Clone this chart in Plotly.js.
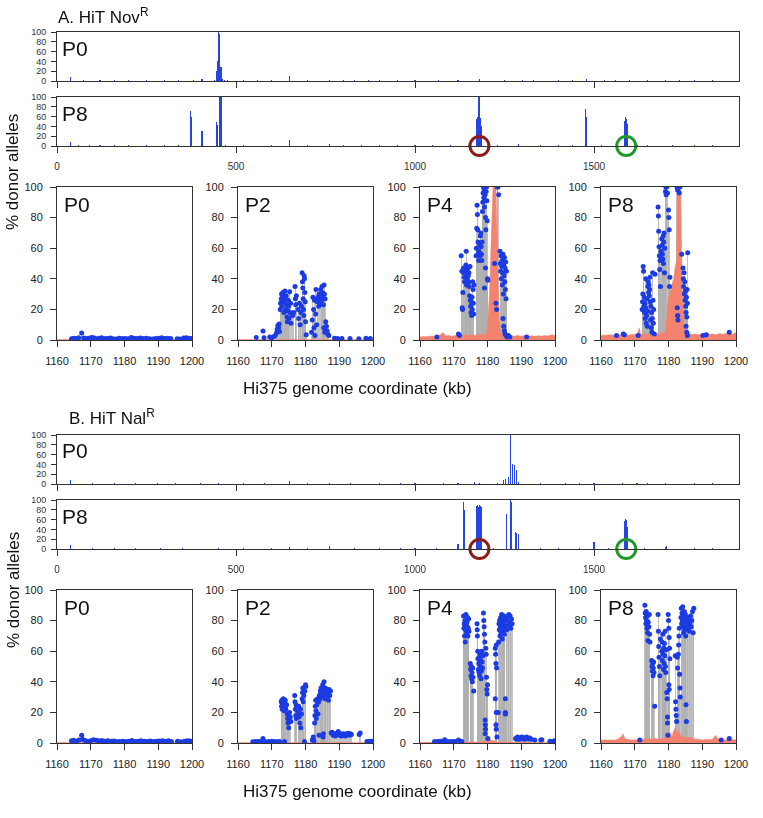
<!DOCTYPE html>
<html><head><meta charset="utf-8">
<script src="https://cdn.plot.ly/plotly-3.0.1.min.js"></script>
<style>html,body{margin:0;padding:0;background:#fff}#chart{width:763px;height:818px}</style>
</head><body><div id="chart"></div>
<script>
// ---------------- DATA ----------------
const genomeTicks = [0, 500, 1000, 1500];
const zoomTicks = [1160, 1170, 1180, 1190, 1200];
const pctTicks = [0, 20, 40, 60, 80, 100];
const circleKb = [1180, 1590];

// genome-wide tracks: [kb, % donor]
const A_P0_track = [[38,8],[75,1.5],[120,2],[160,1.5],[200,1.5],[250,2],[300,2],[340,1.5],[380,2],[405,4],[440,3],[446,20],[449,40],[452,100],[455,96],[458,28],[462,5],[468,3],[475,2],[520,1.5],[560,2],[600,1.5],[650,10],[700,2],[760,3],[800,2],[830,2],[870,1.5],[900,2],[950,1.5],[1000,2],[1065,2],[1120,1.5],[1180,4],[1250,2],[1300,1.5],[1330,2],[1400,2],[1440,1.5],[1478,4],[1530,2],[1560,1.5],[1600,2],[1650,2],[1700,3],[1740,2],[1780,2],[1830,3]];
const A_P8_track = [[38,8],[60,3],[90,2],[120,3],[160,2],[200,2],[250,2],[300,2],[340,2],[372,72],[375,60],[405,30],[446,50],[449,42],[455,100],[458,100],[470,2],[520,2],[600,2],[650,13],[700,2],[760,4],[800,3],[850,3],[900,2],[950,3],[1000,2],[1050,3],[1100,2],[1150,2],[1172,55],[1175,60],[1178,100],[1181,100],[1184,58],[1187,40],[1230,2],[1290,4],[1350,3],[1400,3],[1440,2],[1476,75],[1479,60],[1520,2],[1584,52],[1587,60],[1590,55],[1593,45],[1620,2],[1650,3],[1720,3],[1780,2],[1830,3]];
const B_P0_track = [[38,8],[100,2],[160,1.5],[220,2],[280,1.5],[330,2],[400,1.5],[450,2],[520,1.5],[580,3],[650,6],[700,2],[760,3],[820,1.5],[900,2],[960,1.5],[1000,2],[1080,2],[1120,1.5],[1166,4],[1180,3],[1230,2],[1248,8],[1254,10],[1261,15],[1268,100],[1272,40],[1278,38],[1284,28],[1290,5],[1350,2],[1420,2],[1460,1.5],[1500,2],[1580,2],[1620,1.5],[1650,3],[1700,2],[1780,2],[1830,3]];
const B_P8_track = [[38,8],[100,2],[160,1.5],[220,2],[290,2],[350,1.5],[450,2],[520,1.5],[600,2],[650,4],[700,2],[760,6],[830,2],[900,2],[960,2],[1000,2],[1060,2],[1120,10],[1136,95],[1139,80],[1172,88],[1175,90],[1178,85],[1181,90],[1184,88],[1187,85],[1220,2],[1255,72],[1267,100],[1270,96],[1280,35],[1284,32],[1288,30],[1350,2],[1400,2],[1460,2],[1500,15],[1540,2],[1584,58],[1587,62],[1590,60],[1593,45],[1640,2],[1700,5],[1703,7],[1780,2],[1830,3]];

// zoomed region SNP points: [kb, % donor]
const A_P0_pts = [[1164.3,0.8],[1165.0,1.2],[1165.7,1.0],[1166.4,1.5],[1167.3,4.6],[1167.9,1.3],[1168.6,0.9],[1169.4,1.1],[1170.2,1.6],[1170.9,1.4],[1171.6,0.8],[1172.4,1.2],[1173.2,1.5],[1174.0,1.0],[1174.9,0.9],[1175.8,1.3],[1176.6,0.8],[1177.5,0.7],[1178.4,1.1],[1179.3,1.0],[1180.2,0.9],[1181.1,0.8],[1182.0,1.6],[1182.9,1.2],[1183.8,1.0],[1184.7,1.3],[1185.6,0.9],[1186.5,1.1],[1187.4,0.8],[1188.3,0.7],[1189.2,1.0],[1190.1,1.2],[1191.0,1.4],[1191.9,0.9],[1192.8,1.1],[1193.7,1.0],[1195.6,0.8],[1196.4,0.6],[1197.5,1.3],[1198.3,1.5],[1199.1,1.2],[1199.8,0.9]];
const A_P2_pts = [[1165.4,1.7],[1167.4,5.9],[1167.7,1.5],[1169.4,2.0],[1170.0,1.5],[1170.5,2.2],[1171.0,3.0],[1171.4,4.5],[1171.6,7.0],[1171.8,9.5],[1172.0,8.0],[1172.2,10.5],[1172.3,5.5],[1172.5,20],[1172.6,24],[1172.8,27],[1172.9,30],[1173.0,22],[1173.2,29],[1173.3,31],[1173.5,25],[1173.6,18],[1173.7,28],[1173.9,32],[1174.0,26],[1174.1,20],[1174.3,29],[1174.4,23],[1174.5,15],[1174.6,12],[1174.8,19],[1174.9,26],[1175.0,22],[1175.1,14],[1175.3,31.5],[1175.4,18],[1175.6,24],[1175.7,11],[1175.9,17],[1176.2,16],[1176.5,18],[1176.9,35],[1177.0,27],[1177.1,23],[1177.3,29],[1177.8,20],[1178.0,14],[1178.2,24],[1178.4,10],[1178.6,18],[1178.8,22],[1179.0,44],[1179.1,38],[1179.2,34],[1179.3,27],[1179.4,20],[1179.5,16],[1179.6,42],[1179.7,40],[1179.8,31],[1179.9,25],[1180.0,12],[1180.2,3.5],[1181.8,5],[1182.0,13],[1182.2,28],[1182.4,20],[1182.5,8],[1182.7,26],[1182.8,3],[1183.0,17],[1183.1,33],[1183.3,10],[1183.5,25],[1183.7,28],[1183.9,22],[1184.0,30],[1184.2,27],[1184.3,24],[1184.5,33],[1184.6,29],[1184.8,26],[1184.9,35],[1185.0,31],[1185.2,28],[1185.3,23],[1185.5,36],[1185.6,30],[1185.8,27],[1185.4,8],[1185.7,5],[1186.0,12],[1186.2,9],[1186.4,6],[1186.6,4],[1186.9,3],[1188.6,1.2],[1189.5,1],[1190.8,1],[1193.2,1],[1195.8,0.8],[1197.9,1.2],[1199.2,1]];
const A_P4_pts = [[1165.0,2],[1171.4,4],[1171.7,3],[1172.2,55],[1172.4,45],[1172.5,21],[1172.6,20],[1172.7,31],[1172.9,47],[1173.0,44],[1173.1,41],[1173.2,38],[1173.4,46],[1173.5,43],[1173.6,49],[1173.7,58],[1173.8,36],[1173.9,45],[1174.0,40],[1174.2,47],[1174.3,42],[1174.4,38],[1174.5,44],[1174.6,35],[1174.7,29],[1174.8,48],[1174.9,26],[1175.0,22],[1175.1,18],[1175.2,25],[1175.3,16],[1175.4,28],[1175.5,20],[1175.6,38],[1175.7,33],[1175.8,24],[1175.9,17],[1176.0,36],[1176.6,55],[1176.7,60],[1176.8,73],[1176.9,88],[1177.0,82],[1177.1,72],[1177.2,64],[1177.3,57],[1177.4,52],[1177.5,58],[1177.7,62],[1177.8,55],[1177.9,68],[1178.0,70],[1178.1,61],[1178.2,56],[1178.3,52],[1178.4,64],[1178.5,84],[1178.6,90],[1178.7,96],[1178.8,100],[1178.9,93],[1179.0,98],[1179.1,87],[1179.2,99],[1179.3,95],[1179.4,80],[1179.5,72],[1179.6,97],[1179.7,100],[1179.8,91],[1179.1,34],[1179.4,47],[1179.9,78],[1180.0,40],[1180.1,39],[1182.1,50],[1182.5,24],[1182.7,20],[1182.9,100],[1183.1,100],[1183.3,95],[1183.7,58],[1183.8,50],[1183.9,45],[1184.0,55],[1184.1,40],[1184.2,48],[1184.3,52],[1184.4,36],[1184.5,44],[1184.6,56],[1184.7,30],[1184.8,49],[1184.9,42],[1185.0,54],[1185.1,38],[1185.2,47],[1185.3,33],[1185.4,51],[1185.5,27],[1185.6,45],[1184.6,14],[1184.8,9],[1185.0,6],[1185.2,4],[1185.5,3],[1185.8,2],[1186.2,3],[1186.6,2],[1191.6,2]];
const A_P8_pts = [[1164.6,3],[1166.6,4],[1166.9,3.5],[1171.0,3],[1172.2,20],[1172.3,25],[1172.4,30],[1172.5,48],[1172.6,45],[1172.7,22],[1172.8,28],[1172.9,18],[1173.0,24],[1173.1,14],[1173.2,21],[1173.3,40],[1173.4,11],[1173.5,16],[1173.6,27],[1173.7,9],[1173.8,19],[1173.9,35],[1174.0,38],[1174.1,31],[1174.2,36],[1174.3,29],[1174.4,33],[1174.5,41],[1174.6,25],[1174.7,13],[1174.8,22],[1174.9,8],[1175.0,18],[1175.1,5],[1175.2,14],[1175.3,44],[1175.4,26],[1175.5,11],[1175.6,20],[1175.8,4],[1176.0,43],[1176.9,87],[1177.0,81],[1177.1,71],[1177.2,61],[1177.3,55],[1177.4,46],[1177.5,52],[1177.6,35],[1177.8,58],[1178.0,66],[1178.1,62],[1178.2,56],[1178.3,53],[1178.4,68],[1178.5,50],[1178.6,64],[1178.7,70],[1178.8,44],[1178.9,60],[1179.1,97],[1179.2,100],[1179.3,95],[1179.5,100],[1179.7,96],[1180.0,85],[1180.1,80],[1180.2,72],[1180.3,35],[1180.4,41],[1182.5,100],[1182.7,98],[1182.9,100],[1183.2,96],[1183.4,100],[1182.6,21],[1182.7,16],[1182.8,13],[1183.9,56],[1184.3,47],[1184.4,40],[1184.5,35],[1184.6,44],[1184.7,30],[1184.8,38],[1184.9,26],[1185.0,32],[1185.1,22],[1185.2,18],[1185.3,28],[1185.4,15],[1185.5,33],[1185.6,24],[1185.7,57],[1185.2,9],[1185.4,5],[1185.6,3],[1190.2,3],[1191.2,3.5],[1198.0,5]];
const B_P0_pts = [[1164.3,1.5],[1165.0,1.8],[1165.8,1.2],[1166.5,2.0],[1167.3,5.0],[1167.6,2.5],[1168.3,1.6],[1169.1,1.2],[1170.0,1.5],[1170.8,2.2],[1171.6,1.8],[1172.4,1.4],[1173.3,1.6],[1174.1,1.2],[1175.0,1.5],[1175.9,1.1],[1176.8,1.3],[1177.7,0.9],[1178.6,1.0],[1179.5,1.2],[1180.4,0.9],[1181.3,1.1],[1182.2,1.6],[1183.1,1.0],[1184.0,1.2],[1184.9,1.4],[1185.8,1.1],[1186.7,1.0],[1187.6,1.3],[1188.5,0.9],[1189.4,1.1],[1190.3,1.3],[1191.2,1.5],[1192.1,1.2],[1193.0,1.4],[1193.9,1.0],[1195.7,1.1],[1196.5,0.8],[1197.7,1.2],[1198.5,1.5],[1199.3,1.3],[1199.9,1.0]];
const B_P2_pts = [[1164.4,0.8],[1165.2,1],[1166.0,1],[1166.8,1],[1167.4,3],[1168.0,1],[1169.0,1],[1170.0,1.2],[1170.9,1],[1171.6,0.8],[1172.3,1],[1172.8,27],[1172.9,24],[1173.0,28],[1173.1,22],[1173.2,26],[1173.3,25],[1173.4,29],[1173.5,23],[1173.6,27],[1173.7,21],[1173.8,1],[1173.9,26],[1174.0,28],[1174.1,24],[1174.2,22],[1174.4,25],[1174.6,19],[1174.7,16],[1174.8,13],[1174.9,18],[1175.0,10],[1175.1,15],[1175.3,20],[1175.5,17],[1175.7,14],[1176.8,31],[1176.9,27],[1177.0,22],[1177.1,18],[1177.2,25],[1177.3,16],[1177.8,20],[1178.0,24],[1178.1,17],[1178.3,13],[1178.5,22],[1178.6,10],[1178.8,19],[1179.0,29],[1179.1,33],[1179.2,36],[1179.3,27],[1179.5,31],[1179.7,1],[1179.8,34],[1180.0,38],[1180.1,37],[1182.0,2],[1182.3,4],[1182.5,1.5],[1182.7,13],[1182.8,18],[1182.9,24],[1183.0,28],[1183.1,21],[1183.2,16],[1183.4,25],[1183.6,29],[1183.7,19],[1183.9,27],[1184.0,5],[1184.1,31],[1184.3,29],[1184.4,34],[1184.5,32],[1184.6,36],[1184.8,30],[1184.9,35],[1185.0,33],[1185.1,38],[1185.2,4],[1185.3,6],[1185.4,31],[1185.5,40],[1185.6,34],[1185.8,29],[1185.9,36],[1186.0,32],[1186.2,35],[1186.4,30],[1186.6,33],[1186.8,28],[1187.0,35],[1187.2,31],[1187.4,34],[1187.6,6.5],[1187.9,7],[1188.2,5],[1188.5,6],[1188.8,4.5],[1189.1,5.5],[1189.4,6.5],[1189.7,7.5],[1190.0,5],[1190.3,6],[1190.6,4.5],[1190.9,5.5],[1191.2,6],[1191.5,5],[1191.8,4.5],[1192.1,6],[1192.4,5.5],[1192.7,6.3],[1193.0,5],[1193.3,6],[1193.6,5.5],[1195.9,5.5],[1196.2,6.5],[1198.2,1],[1198.8,1],[1199.4,1.2],[1199.9,1]];
const B_P4_pts = [[1164.3,1],[1165.2,1],[1166.0,1.2],[1166.8,1],[1167.3,2.2],[1167.8,1.2],[1168.8,1],[1169.6,1],[1170.4,1],[1171.4,2],[1172.0,1],[1172.4,1],[1172.9,83],[1173.0,75],[1173.1,78],[1173.2,70],[1173.3,80],[1173.4,66],[1173.5,74],[1173.6,84],[1173.7,77],[1173.8,72],[1173.9,79],[1174.0,76],[1174.1,82],[1174.2,70],[1174.3,75],[1174.4,81],[1174.5,73],[1174.9,52],[1175.0,48],[1175.1,44],[1175.2,50],[1175.3,42],[1175.4,46],[1175.5,40],[1175.6,49],[1175.7,43],[1175.9,34],[1176.9,78],[1176.95,74],[1177.0,70],[1177.1,60],[1177.15,55],[1177.3,48],[1177.4,52],[1177.5,46],[1177.6,56],[1177.7,44],[1177.8,58],[1177.9,50],[1178.0,54],[1178.1,42],[1178.2,47],[1178.3,60],[1178.4,53],[1178.5,49],[1178.6,57],[1178.8,85],[1178.9,80],[1179.0,76],[1179.1,71],[1179.2,66],[1179.3,15],[1179.35,12],[1179.4,9],[1179.3,6],[1179.5,62],[1179.6,58],[1179.7,43],[1179.8,35],[1179.9,32],[1180.0,38],[1180.1,3],[1182.3,62],[1182.4,58],[1182.5,52],[1182.6,64],[1182.7,49],[1182.3,29],[1182.6,20],[1182.5,12],[1182.6,9],[1182.8,4],[1183.2,20],[1183.3,66],[1183.4,78],[1183.5,74],[1183.6,80],[1183.7,70],[1183.8,76],[1183.9,82],[1184.0,72],[1184.1,79],[1184.2,84],[1184.3,75],[1184.4,68],[1184.5,77],[1184.6,81],[1184.7,73],[1184.8,78],[1184.9,83],[1185.0,71],[1185.1,76],[1185.3,20],[1185.3,29],[1185.3,19],[1185.5,80],[1185.7,74],[1185.9,82],[1186.1,77],[1186.3,84],[1186.5,79],[1186.7,83],[1186.9,75],[1187.1,81],[1187.3,78],[1188.3,3],[1188.6,2.5],[1188.9,4],[1189.2,3],[1189.5,2.5],[1189.8,3.5],[1190.1,4],[1190.4,2.8],[1190.7,3.5],[1191.0,2.5],[1191.3,3.2],[1191.6,4],[1191.9,3],[1192.2,2.6],[1192.5,3.2],[1193.0,2.5],[1194.0,2],[1195.8,2],[1196.1,2.2],[1198.5,1.2],[1199.2,1],[1199.8,1.5]];
const B_P8_pts = [[1171.5,2],[1173.0,90],[1173.1,85],[1173.2,82],[1173.3,78],[1173.4,86],[1173.5,80],[1173.6,75],[1173.7,83],[1173.8,72],[1173.9,67],[1174.0,79],[1174.2,76],[1174.3,84],[1174.4,71],[1174.5,66],[1175.0,54],[1175.1,50],[1175.2,47],[1175.3,52],[1175.4,44],[1175.5,49],[1175.6,53],[1175.7,46],[1175.9,24],[1176.9,84],[1177.0,73],[1177.1,63],[1177.2,56],[1177.3,50],[1177.4,44],[1177.6,68],[1178.0,60],[1178.1,66],[1178.2,54],[1178.3,71],[1178.4,58],[1178.5,48],[1178.6,62],[1178.7,52],[1178.8,65],[1178.9,57],[1179.0,73],[1179.1,50],[1179.2,46],[1179.3,61],[1179.5,33],[1179.6,29],[1179.7,17],[1179.7,13],[1179.8,5],[1179.9,84],[1180.0,80],[1180.1,75],[1180.2,69],[1180.3,62],[1180.4,55],[1180.1,38],[1180.2,35],[1182.0,57],[1182.1,27],[1182.2,22],[1182.3,18],[1182.4,14],[1182.6,56],[1182.7,49],[1182.9,58],[1183.0,64],[1183.1,70],[1183.2,75],[1183.3,45],[1183.4,36],[1183.5,30],[1183.7,82],[1183.8,88],[1183.9,78],[1184.0,85],[1184.1,80],[1184.2,89],[1184.3,76],[1184.4,83],[1184.5,72],[1184.6,81],[1184.7,86],[1184.8,74],[1184.9,79],[1185.0,84],[1185.1,70],[1185.2,25],[1185.3,14],[1185.4,77],[1185.5,82],[1185.7,75],[1185.9,80],[1186.1,73],[1186.3,78],[1186.5,83],[1186.7,76],[1186.9,80],[1187.1,86],[1187.3,72],[1187.5,88],[1195.6,2],[1198.0,3]];

// recipient-allele background (salmon area): [kb, %]
const flatBg = [[1160,0.4],[1200,0.4]];
const A_P4_bg = [[1160,2],[1161,2.3],[1162,2.1],[1163,2.6],[1164,2.4],[1165,2.8],[1166,3.2],[1166.8,5],[1167.5,2.8],[1168.5,3],[1169.5,2.5],[1170.5,3],[1171.5,3.5],[1172.5,3],[1173.5,3.5],[1174.5,3],[1175.5,3.5],[1176.5,3],[1177.5,4],[1178.5,3.5],[1179.5,4],[1179.8,4],[1180.6,30],[1181.2,70],[1181.6,100],[1182.5,100],[1182.9,60],[1183.3,25],[1183.8,5],[1185,4],[1186,3.5],[1187,3],[1188,2.5],[1189,3],[1190,2.5],[1191,3],[1192,2.5],[1193,2.8],[1194,2.4],[1195,2.8],[1196,2.5],[1197,3],[1198,2.6],[1199,3.5],[1200,3]];
const A_P8_bg = [[1160,3],[1161,3.2],[1162,3],[1163,3.4],[1164,3.1],[1165,3.5],[1166,3.3],[1167,3.6],[1168,3.2],[1169,3.4],[1170,3.8],[1170.8,4],[1171.3,8],[1171.7,4],[1172.5,3.5],[1173.5,4],[1174.5,3.8],[1175.5,4.2],[1176.5,4],[1177.5,4.5],[1178.5,4.2],[1179.0,5],[1179.5,15],[1180.0,28],[1180.5,32],[1181.0,36],[1181.5,40],[1182.0,48],[1182.4,52],[1182.6,100],[1183.6,100],[1184.0,40],[1184.5,10],[1185,4],[1186,4.5],[1187,3.5],[1188,4],[1189,3.5],[1190,3.8],[1191,4.5],[1192,3.6],[1193,4],[1194,3.5],[1195,4.2],[1196,3.8],[1197,4],[1198,4.5],[1199,3.8],[1200,5]];
const B_P4_bg = [[1160,0.5],[1170,0.5],[1178,0.6],[1179.5,1],[1180,2.5],[1181,2],[1182,1.5],[1183,0.6],[1190,0.5],[1200,0.5]];
const B_P8_bg = [[1160,2],[1161,2],[1162,1.8],[1163,2.2],[1164,2],[1165,2.5],[1166,4],[1166.5,6],[1167,3],[1168,2.5],[1169,2],[1170,2.2],[1171,2],[1172,2.5],[1173,2.5],[1174,3],[1175,2.5],[1176,3],[1177,2.5],[1178,3],[1179,3.5],[1180,5],[1180.5,7],[1181,4],[1181.5,8],[1182,10],[1182.5,6],[1183,8],[1183.5,5],[1184,4],[1185,3.5],[1186,4],[1187,3],[1188,2.5],[1189,2.5],[1190,2],[1191,2.5],[1192,2.2],[1193,2.5],[1194,5],[1194.5,3],[1195,2.5],[1196,2],[1197,2.2],[1198,2],[1199,2.5],[1200,2]];

const zoomLabels = ['P0','P2','P4','P8'];
const trackLabels = ['P0','P8'];
const panelTitles = ['A. HiT Nov<sup>R</sup>', 'B. HiT Nal<sup>R</sup>'];
const xTitle = 'Hi375 genome coordinate (kb)';
const yTitle = '% donor alleles';

// ---------------- STYLE / LAYOUT ----------------
const W = 763, H = 818;
const FONT = 'Liberation Sans, Arial, Helvetica, sans-serif';
const BLUE = '#1b3be3', GRAY = 'rgba(175,175,175,0.75)', SALMON = '#f3836f';
const LINE = '#333';
function dx(a, b) { return [a / W, b / W]; }
function dy(t, b) { return [1 - b / H, 1 - t / H]; }

const traces = [];
const layout = {
  width: W, height: H, margin: {l:0, r:0, t:0, b:0},
  paper_bgcolor: '#fff', plot_bgcolor: '#fff', showlegend: false,
  barmode: 'overlay', bargap: 0,
  font: {family: FONT, color: '#222'},
  annotations: []
};
let axN = 0;
function ann(text, px, py, size, extra) {
  layout.annotations.push(Object.assign({
    text: text, xref: 'paper', yref: 'paper', x: px / W, y: 1 - py / H,
    xanchor: 'left', yanchor: 'middle', showarrow: false,
    font: {family: FONT, size: size, color: '#111'}
  }, extra || {}));
}

function addTrack(data, box, label, showX, withCircles) {
  axN++;
  const xa = 'xaxis' + (axN === 1 ? '' : axN), ya = 'yaxis' + (axN === 1 ? '' : axN);
  const xr = 'x' + (axN === 1 ? '' : axN), yr = 'y' + (axN === 1 ? '' : axN);
  traces.push({type: 'bar', x: data.map(d => d[0]), y: data.map(d => d[1]), width: 3,
    marker: {color: BLUE, line: {width: 0}}, opacity: 0.95,
    xaxis: xr, yaxis: yr, hoverinfo: 'skip'});
  if (withCircles) {
    traces.push({type: 'scatter', mode: 'markers', x: circleKb, y: circleKb.map(() => 0),
      marker: {symbol: 'circle-open', size: 19, color: ['#8e1a1a', '#1f9a2a'], line: {width: 3}},
      cliponaxis: false, xaxis: xr, yaxis: yr, hoverinfo: 'skip'});
  }
  layout[xa] = {domain: dx(box[0], box[2]), anchor: yr, range: [0, 1905],
    tickvals: genomeTicks, ticktext: genomeTicks.map(String), showticklabels: showX,
    ticks: 'outside', ticklen: 6, tickcolor: LINE, tickwidth: 1, ticklabelstandoff: 5,
    tickfont: {size: 10, color: '#333', family: FONT},
    showline: true, linecolor: LINE, linewidth: 1, mirror: true, showgrid: false, zeroline: false, fixedrange: true};
  layout[ya] = {domain: dy(box[1], box[3]), anchor: xr, range: [0, 100],
    tickvals: pctTicks, ticks: 'outside', ticklen: 5, tickcolor: LINE, ticklabelstandoff: 3,
    tickfont: {size: 9, color: '#333', family: FONT},
    showline: true, linecolor: LINE, linewidth: 1, mirror: true, showgrid: false, zeroline: false, fixedrange: true};
  ann(label, box[0] + 3, box[1] + 16, 21);
}

function addZoom(pts, bg, box, label) {
  axN++;
  const xa = 'xaxis' + axN, ya = 'yaxis' + axN, xr = 'x' + axN, yr = 'y' + axN;
  traces.push({type: 'scatter', mode: 'lines', x: bg.map(d => d[0]), y: bg.map(d => d[1]),
    fill: 'tozeroy', fillcolor: SALMON, line: {width: 0.5, color: SALMON},
    xaxis: xr, yaxis: yr, hoverinfo: 'skip'});
  traces.push({type: 'bar', x: pts.map(d => d[0]), y: pts.map(d => d[1]), width: 0.28,
    marker: {color: GRAY, line: {width: 0}}, xaxis: xr, yaxis: yr, hoverinfo: 'skip'});
  traces.push({type: 'scatter', mode: 'markers', x: pts.map(d => d[0]), y: pts.map(d => d[1]),
    marker: {color: BLUE, size: 5}, cliponaxis: true, xaxis: xr, yaxis: yr, hoverinfo: 'skip'});
  layout[xa] = {domain: dx(box[0], box[2]), anchor: yr, range: [1160, 1200],
    tickvals: zoomTicks, ticks: 'outside', ticklen: 6, tickcolor: LINE, ticklabelstandoff: 5,
    tickfont: {size: 11, color: '#222', family: FONT},
    showline: true, linecolor: LINE, linewidth: 1, mirror: true, showgrid: false, zeroline: false, fixedrange: true};
  layout[ya] = {domain: dy(box[1], box[3]), anchor: xr, range: [0, 100],
    tickvals: pctTicks, ticks: 'outside', ticklen: 6, tickcolor: LINE, ticklabelstandoff: 5,
    tickfont: {size: 11, color: '#222', family: FONT},
    showline: true, linecolor: LINE, linewidth: 1, mirror: true, showgrid: false, zeroline: false, fixedrange: true};
  ann(label, box[0] + 5, box[1] + 17, 21);
}

const zoomX = [[57,192],[238,373],[420,555],[601,736]];
const trackL = 57, trackR = 739;

// Panel A
addTrack(A_P0_track, [trackL, 32, trackR, 81], trackLabels[0], false, false);
addTrack(A_P8_track, [trackL, 97, trackR, 146], trackLabels[1], true, true);
[A_P0_pts, A_P2_pts, A_P4_pts, A_P8_pts].forEach((p, i) => {
  const bg = [flatBg, flatBg, A_P4_bg, A_P8_bg][i];
  addZoom(p, bg, [zoomX[i][0], 187, zoomX[i][1], 340], zoomLabels[i]);
});
// Panel B
addTrack(B_P0_track, [trackL, 435, trackR, 484], trackLabels[0], false, false);
addTrack(B_P8_track, [trackL, 500, trackR, 549], trackLabels[1], true, true);
[B_P0_pts, B_P2_pts, B_P4_pts, B_P8_pts].forEach((p, i) => {
  const bg = [flatBg, flatBg, B_P4_bg, B_P8_bg][i];
  addZoom(p, bg, [zoomX[i][0], 590, zoomX[i][1], 743], zoomLabels[i]);
});

ann(panelTitles[0], 56, 16, 17);
ann(panelTitles[1], 67, 417, 17);
ann(xTitle, 357, 388, 17, {xanchor: 'center'});
ann(xTitle, 357, 791, 17, {xanchor: 'center'});
ann(yTitle, 13, 172, 17, {xanchor: 'center', textangle: -90});
ann(yTitle, 13, 590, 17, {xanchor: 'center', textangle: -90});

Plotly.newPlot('chart', traces, layout, {staticPlot: true, displayModeBar: false});
</script></body></html>
